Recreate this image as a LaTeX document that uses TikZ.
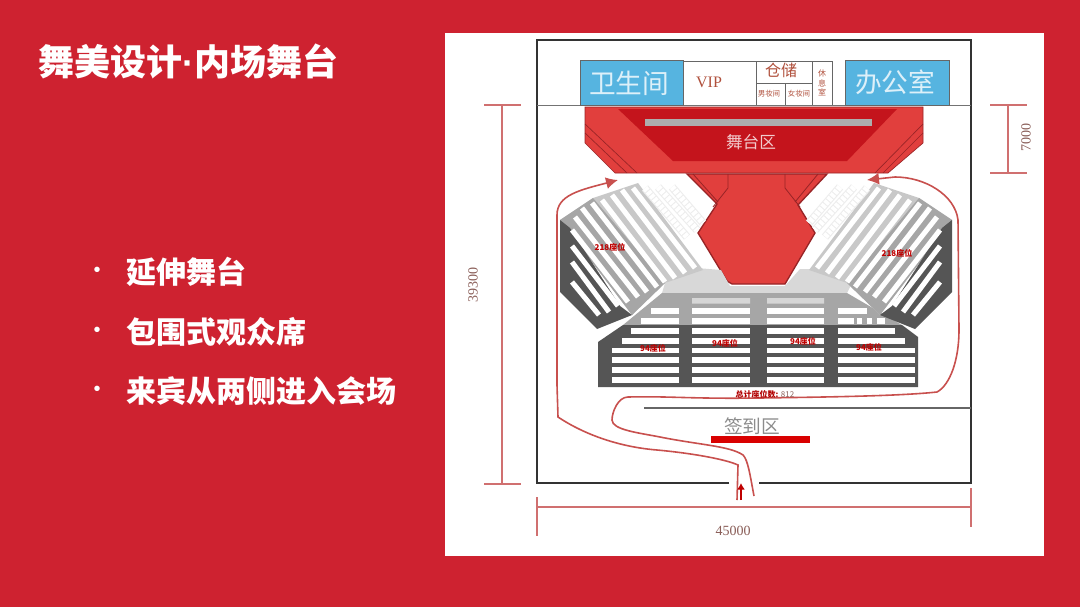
\documentclass[tikz,border=0pt]{standalone}
\usepackage{fontspec}
\usetikzlibrary{arrows.meta}
\setmainfont{Noto Sans CJK SC}
\newfontfamily\latinserif{Liberation Serif}
\newfontfamily\latinsans{Liberation Sans}
\definecolor{slidered}{HTML}{CE2230}
\definecolor{stagered}{HTML}{E13F3D}
\definecolor{stagedark}{HTML}{C4141C}
\definecolor{stageedge}{HTML}{982426}
\definecolor{roomblue}{HTML}{56B4E0}
\definecolor{routered}{HTML}{C8504E}
\definecolor{dimred}{HTML}{D07070}
\definecolor{dimtext}{HTML}{8A5E58}
\definecolor{roomtext}{HTML}{B0503C}
\definecolor{seatdark}{HTML}{555555}
\definecolor{seatmid}{HTML}{A6A6A6}
\definecolor{seatlight}{HTML}{C8C8C8}
\definecolor{seatpale}{HTML}{D8D8D8}
\tikzset{
  wall/.style={draw=black!80,line width=1.1pt},
  dimline/.style={draw=dimred,line width=0.8pt},
  route/.style={draw=routered,line width=1.2pt},
  bluebox/.style={fill=roomblue,draw=black!60,line width=0.5pt},
  roomline/.style={draw=black!60,line width=0.5pt},
  seatstrip/.style={draw=white,line width=3.8pt},
  ghoststrip/.style={draw=black!7,line width=6pt},
  ghostdots/.style={draw=white,line width=4.4pt,dash pattern=on 2.6pt off 0.9pt},
  seatrow/.style={fill=white},
  seatlabel/.style={text=red!75!black,font=\bfseries\fontsize{6}{6}\selectfont},
  bulletdot/.style={text=white,font=\latinsans\fontsize{15}{15}\selectfont},
  bullettext/.style={text=white,anchor=west,font=\bfseries\fontsize{22.5}{24}\selectfont},
}
\begin{document}
\begin{tikzpicture}[x=0.75pt,y=-0.75pt]
\newcommand{\wingseats}{
	\fill[seatlight] (560,220)--(593,198)--(638,183)--(703,270)--(665,283)--(632,315)--cycle;
	\fill[seatmid] (560,220)--(593,198)--(665,283)--(632,315)--cycle;
	\fill[seatdark] (560,220)--(560,292)--(597,329)--(632,315)--(620,306)--(570,228)--cycle;
	\foreach \xa/\ya/\xb/\yb in {572/282/599/315,572/262/609/312,572/246/618/306,572/230/628/302,575/217/638/297,582/208/647/292,592/203/657/287,602/200/665/282,612/195/675/278,622/190/685/273,633/188/695/268}
		\draw[seatstrip] (\xa,\ya)--(\xb,\yb);
	\foreach \xa/\ya/\xb/\yb in {645/188/687/237,658/187/697/230,672/187/703/223}{
		\draw[ghoststrip] (\xa,\ya)--(\xb,\yb);
		\draw[ghostdots] (\xa,\ya)--(\xb,\yb);
	}
}
\newcommand{\seatblock}[3]{\fill[seatrow] (#1,#3-2.8) rectangle (#2,#3+2.8);}

\fill[slidered] (0,0) rectangle (1080,607);
\fill[white] (445,33) rectangle (1044,556);
\useasboundingbox (0,0) rectangle (1080,607);

\node[text=white,anchor=west,inner sep=0pt,font=\bfseries\fontsize{27}{30}\selectfont] (title) at (38,61) {舞美设计{\latinsans·}内场舞台};
\node[bulletdot] (dota) at (97,272) {•};
\node[bulletdot] (dotb) at (97,332) {•};
\node[bulletdot] (dotc) at (97,391) {•};
\node[bullettext,inner sep=0pt] (pointa) at (126,272) {延伸舞台};
\node[bullettext,inner sep=0pt] (pointb) at (126,332) {包围式观众席};
\node[bullettext,inner sep=0pt] (pointc) at (126,391) {来宾从两侧进入会场};

\draw[wall] (729,483)--(537,483)--(537,40)--(971,40)--(971,483)--(759,483);
\draw[draw=black!55,line width=0.6pt] (537,105.5)--(971,105.5);

\draw[bluebox] (580,60) rectangle (683,105);
\draw[bluebox] (845,60) rectangle (949,105);
\node[text=white!80!roomblue,font=\fontsize{20}{20}\selectfont] (toilet) at (629,83) {卫生间};
\node[text=white!80!roomblue,font=\fontsize{20}{20}\selectfont] (office) at (895,82) {办公室};
\draw[roomline] (683,61)--(832,61)--(832,105) (756,61)--(756,105) (812,61)--(812,105) (756,83)--(812,83) (785,83)--(785,105);
\node[text=roomtext,font=\latinserif\fontsize{12}{12}\selectfont] (vip) at (709,82) {VIP};
\node[text=roomtext,font=\fontsize{12}{12}\selectfont] (storage) at (781,70) {仓储};
\node[text=roomtext,font=\fontsize{5.6}{6}\selectfont] (mendress) at (769,94) {男妆间};
\node[text=roomtext,font=\fontsize{5.6}{6}\selectfont] (ladydress) at (799,94) {女妆间};
\node[text=roomtext,align=center,font=\fontsize{6}{7.4}\selectfont] (restroom) at (822,83) {休\\息\\室};

% stage
\fill[stagered,draw=stageedge,line width=0.5pt] (585,107)--(923,107)--(923,143)--(888,173)--(615,173)--(585,143)--cycle;
\fill[stagedark] (618,109)--(897,109)--(847,161)--(673,161)--cycle;
\fill[black!32] (645,119) rectangle (872,126);
\draw[stageedge,line width=0.5pt] (585,124)--(637,173) (585,133)--(627,173) (923,124)--(875,173) (923,133)--(883,173);
\node[text=white!78!stagedark,font=\fontsize{12.5}{13}\selectfont] (stage) at (751,142) {舞台区};

\filldraw[fill=stagered,draw=stageedge,line width=1pt] (687,174)--(717,204)--(698,233)--(727,281)--(732,284)--(785,284)--(815,233)--(798,205)--(827,174)--cycle;
\draw[stageedge,line width=0.6pt] (693,174)--(718,202) (728,174)--(728,188)--(713,207) (785,174)--(785,188)--(800,207) (818,174)--(795,202);

% seats
\fill[seatpale] (662,293)--(665,283)--(697,268)--(721,270)--(730,286)--(785,286)--(800,269)--(812,269)--(852,283)--(847,293)--cycle;
\fill[seatmid] (662,293)--(847,293)--(902,325)--(623,325)--cycle;
\fill[seatdark] (598,342)--(623,325)--(902,325)--(918,337)--(918,387)--(598,387)--cycle;
\wingseats
\begin{scope}[shift={(1512,0)},xscale=-1]
\wingseats
\end{scope}
\foreach \rowy in {310.7,320.7,330.7,340.7,350.3,360,370,380}{
	\seatblock{692}{750}{\rowy}
	\seatblock{767}{824}{\rowy}
}
\fill[seatrow,opacity=0.55] (692,298) rectangle (750,303.6) (767,298) rectangle (824,303.6);
\foreach \leftx/\rowy in {651/310.7,641/320.7,631/330.7,622/340.7,612/350.3,612/360,612/370,612/380}{
	\seatblock{\leftx}{679}{\rowy}
}
\foreach \rightx/\rowy in {867/310.7,895/330.7,905/340.7,915/350.3,915/360,915/370,915/380}{
	\seatblock{838}{\rightx}{\rowy}
}
\foreach \lefte/\righte in {838/854,857/862,867/872,877/885}{
	\seatblock{\lefte}{\righte}{320.7}
}

\node[seatlabel] (seatsa) at (610,247) {218座位};
\node[seatlabel] (seatsb) at (897,253) {218座位};
\node[seatlabel] (seatsc) at (653,348) {94座位};
\node[seatlabel] (seatsd) at (725,343) {94座位};
\node[seatlabel] (seatse) at (803,341) {94座位};
\node[seatlabel] (seatsf) at (869,347) {94座位};

% routes
\draw[route,-{Latex[length=9pt,width=9pt]}] (737,500)--(738,465) .. controls (725,459) and (690,453) .. (657,450) .. controls (620,447) and (585,435) .. (558,417)--(557,385)--(557,215) .. controls (557,195) and (580,190) .. (618,180);
\draw[route,-{Latex[length=9pt,width=9pt]}] (754,496) .. controls (750,475) and (748,460) .. (743,455) .. controls (730,446) and (700,445) .. (660,437) .. controls (640,433) and (612,430) .. (612,420) .. controls (612,412) and (618,397) .. (628,397) .. controls (670,396) and (690,399) .. (760,398) .. controls (830,397) and (900,396) .. (937,392) .. controls (950,385) and (959,360) .. (959,330)--(958,220) .. controls (955,195) and (925,177) .. (895,177)--(867,180);
\draw[route,-{Latex[length=5pt,width=6pt]},draw=red!75!black] (741,500)--(741,483);

\node[text=red!70!black,font=\bfseries\fontsize{6}{6}\selectfont] (total) at (765,394) {总计座位数: \textcolor{dimtext}{\mdseries 812}};

\draw[draw=black!60,line width=1.7pt] (644,408)--(971,408);
\fill[red!85!black] (711,436) rectangle (810,443);
\node[text=black!45,font=\fontsize{14}{14}\selectfont] (signin) at (752,426) {签到区};

% dimensions
\coordinate (dimla) at (502,105);
\coordinate (dimlb) at (502,484);
\draw[dimline] (dimla)--(dimlb) (484,105)--(521,105) (484,484)--(521,484);
\node[text=dimtext,rotate=90,font=\latinserif\fontsize{10.5}{11}\selectfont] (height) at (473,285) {39300};
\coordinate (dimra) at (1008,105);
\coordinate (dimrb) at (1008,173);
\draw[dimline] (dimra)--(dimrb) (990,105)--(1027,105) (990,173)--(1027,173);
\node[text=dimtext,rotate=90,font=\latinserif\fontsize{10.5}{11}\selectfont] (depth) at (1026,137) {7000};
\coordinate (dimba) at (537,507);
\coordinate (dimbb) at (971,507);
\draw[dimline] (dimba)--(dimbb) (537,497)--(537,536) (971,488)--(971,527);
\node[text=dimtext,font=\latinserif\fontsize{10.5}{11}\selectfont] (width) at (733,531) {45000};
\end{tikzpicture}
\end{document}
